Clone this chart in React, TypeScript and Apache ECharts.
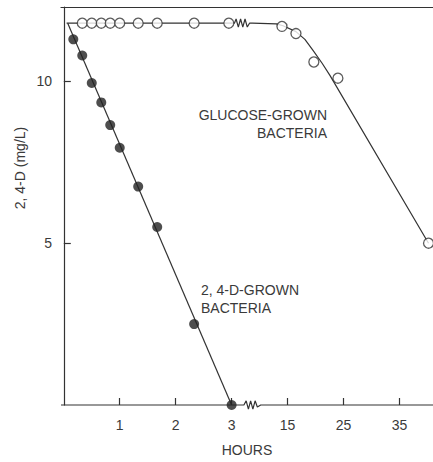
import React, { useEffect, useRef } from "react";
import * as echarts from "echarts";

// Hours shown on the broken x axis (0–3 h linear, then 15, 25, 35 h)
const xTickHours = [1, 2, 3, 15, 25, 35];
const yTickValues = [5, 10];

// Glucose-grown bacteria (open circles)
const glucoseHours = [0.33, 0.5, 0.67, 0.83, 1.0, 1.33, 1.67, 2.33, 2.95, 14.0, 16.5, 19.7, 24.0, 40.2];
const glucoseValues = [11.8, 11.8, 11.8, 11.8, 11.8, 11.8, 11.8, 11.8, 11.8, 11.7, 11.48, 10.6, 10.1, 5.0];

// 2,4-D-grown bacteria (filled circles)
const dHours = [0.17, 0.33, 0.5, 0.67, 0.83, 1.0, 1.33, 1.67, 2.33, 3.0];
const dValues = [11.3, 10.8, 9.95, 9.35, 8.65, 7.95, 6.75, 5.5, 2.5, 0];

// Fitted curves
const glucoseFitHours = [0.05, 3.05, 3.08, 3.12, 3.16, 3.2, 3.24, 3.28, 3.32, 3.37, 13.0, 14.2, 16.5, 18.1, 19.55, 21.15, 22.6, 40.2];
const glucoseFitValues = [11.8, 11.8, 11.93, 11.68, 11.93, 11.68, 11.93, 11.68, 11.8, 11.8, 11.78, 11.72, 11.54, 11.3, 10.96, 10.57, 10.18, 5.0];
const dFitHours = [0.07, 3.0];
const dFitValues = [11.8, 0];

// Bottom axis line with its break mark
const axisLineHours = [-0.05, 3.22, 3.26, 3.3, 3.34, 3.38, 3.42, 3.46, 3.52, 41.0];
const axisLineValues = [0, 0, 0.13, -0.13, 0.13, -0.13, 0.13, -0.06, 0, 0];

// Broken-axis transform: hours -> axis units
const toU = (t: number) => (t <= 4 ? t : 4 + (t - 15) / 10);
const pairs = (xs: number[], ys: number[]) => xs.map((x, i) => [toU(x), ys[i]]);

const INK = "#333";
const TEXT = "#3a3a3a";
const FONT = "'Liberation Sans', Arial, Helvetica, sans-serif";

export default function App() {
  const ref = useRef<HTMLDivElement>(null);
  useEffect(() => {
    if (!ref.current) return;
    const chart = echarts.init(ref.current, undefined, { renderer: "svg" });
    const xMin = -0.05;
    const xMax = 6.6;
    chart.setOption({
      animation: false,
      backgroundColor: "#fff",
      textStyle: { fontFamily: FONT },
      grid: { left: 61, right: 0, top: 7, bottom: 50 },
      xAxis: [
        {
          type: "value",
          min: xMin,
          max: xMax,
          axisLine: { show: false },
          splitLine: { show: false },
          axisTick: {
            show: true,
            inside: true,
            length: 7,
            customValues: xTickHours.map(toU),
            lineStyle: { color: INK, width: 1.2 },
          },
          axisLabel: {
            customValues: xTickHours.map(toU),
            color: TEXT,
            fontSize: 14,
            fontFamily: FONT,
            margin: 13,
            formatter: (v: number) => {
              const i = xTickHours.findIndex((h) => Math.abs(toU(h) - v) < 1e-6);
              return i >= 0 ? String(xTickHours[i]) : "";
            },
          },
          name: "HOURS",
          nameLocation: "middle",
          nameGap: 38,
          nameTextStyle: { color: TEXT, fontSize: 14, fontFamily: FONT },
        },
        {
          type: "value",
          position: "top",
          min: xMin,
          max: xMax,
          axisLine: { show: true, lineStyle: { color: INK, width: 1.2 } },
          axisTick: { show: false },
          axisLabel: { show: false },
          splitLine: { show: false },
        },
      ],
      yAxis: {
        type: "value",
        min: 0,
        max: 12.3,
        axisLine: { show: true, lineStyle: { color: INK, width: 1.2 } },
        splitLine: { show: false },
        axisTick: {
          show: true,
          inside: true,
          length: 7,
          customValues: yTickValues,
          lineStyle: { color: INK, width: 1.2 },
        },
        axisLabel: {
          customValues: yTickValues,
          color: TEXT,
          fontSize: 14,
          fontFamily: FONT,
          margin: 9,
        },
      },
      graphic: [
        {
          type: "text",
          x: 20,
          y: 168,
          rotation: Math.PI / 2,
          style: {
            text: "2, 4-D (mg/L)",
            fill: TEXT,
            font: `14px ${FONT}`,
            align: "center",
            verticalAlign: "middle",
          },
        },
        {
          type: "text",
          x: 327,
          y: 106,
          style: {
            text: "GLUCOSE-GROWN\nBACTERIA",
            fill: TEXT,
            font: `14px ${FONT}`,
            align: "right",
            verticalAlign: "top",
            lineHeight: 18,
          },
        },
        {
          type: "text",
          x: 201,
          y: 281,
          style: {
            text: "2, 4-D-GROWN\nBACTERIA",
            fill: TEXT,
            font: `14px ${FONT}`,
            align: "left",
            verticalAlign: "top",
            lineHeight: 18,
          },
        },
      ],
      series: [
        {
          type: "line",
          data: pairs(axisLineHours, axisLineValues),
          symbol: "none",
          clip: false,
          lineStyle: { color: INK, width: 1.2 },
          z: 1,
        },
        {
          type: "line",
          data: pairs(glucoseFitHours, glucoseFitValues),
          symbol: "none",
          clip: false,
          lineStyle: { color: INK, width: 1.2 },
          z: 2,
        },
        {
          type: "line",
          data: pairs(dFitHours, dFitValues),
          symbol: "none",
          clip: false,
          lineStyle: { color: INK, width: 1.2 },
          z: 2,
        },
        {
          type: "scatter",
          data: pairs(glucoseHours, glucoseValues),
          symbol: "circle",
          symbolSize: 10,
          clip: false,
          itemStyle: { color: "#fff", borderColor: INK, borderWidth: 1.3 },
          z: 3,
        },
        {
          type: "scatter",
          data: pairs(dHours, dValues),
          symbol: "circle",
          symbolSize: 10,
          clip: false,
          itemStyle: { color: "#222" },
          z: 3,
        },
      ],
    });
    return () => chart.dispose();
  }, []);
  return (
    <div
      ref={ref}
      style={{ position: "fixed", left: 0, top: 0, width: 433, height: 462 }}
    />
  );
}
